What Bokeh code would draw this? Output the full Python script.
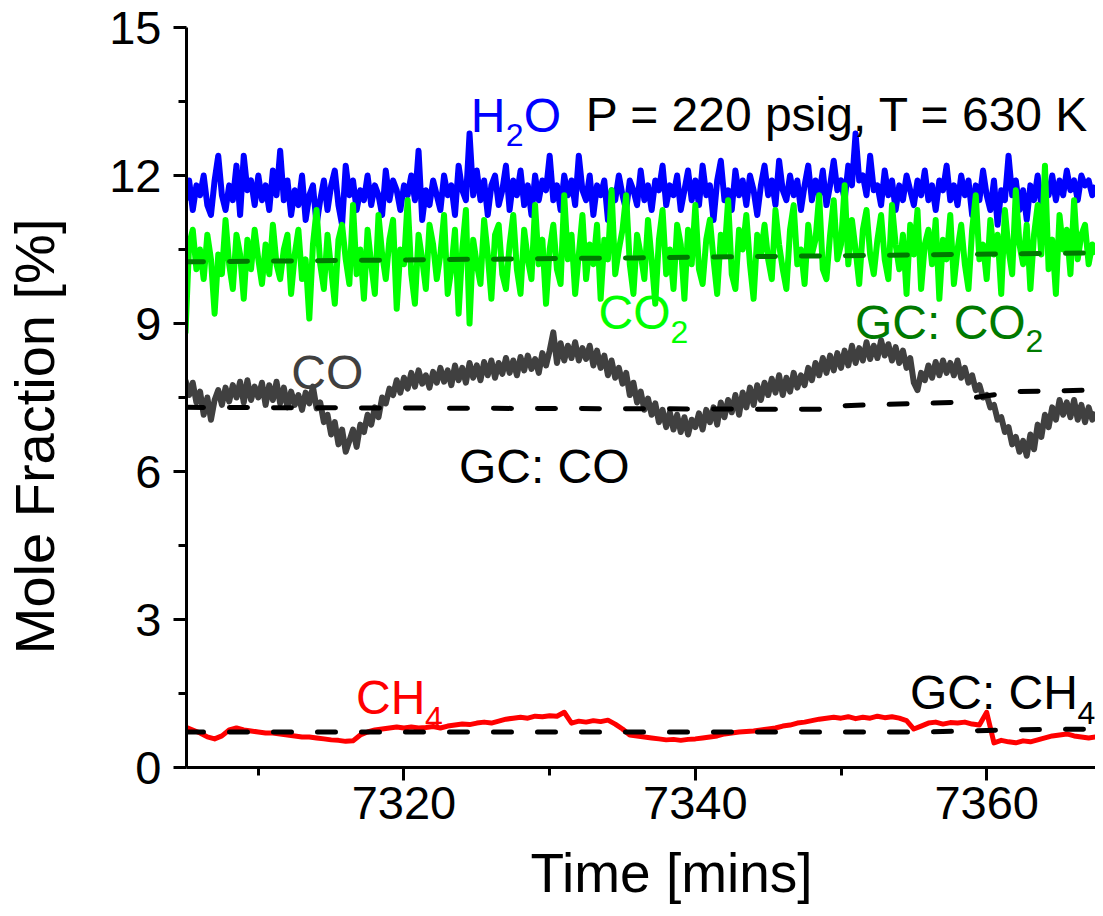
import numpy as np
from bokeh.plotting import figure
from bokeh.models import Range1d, FixedTicker, Label
from bokeh.embed import file_html
from bokeh.resources import INLINE

# ---------------- data ----------------
t_start = 7305.0
t_step = 0.25          # spectroscopic sampling (min)
ch4_step = 0.5

h2o = [
    11.5, 11.9, 11.3, 11.8, 11.6, 12.0, 11.4, 11.2, 11.9, 12.4,
    11.6, 11.3, 11.8, 11.5, 12.2, 11.2, 12.4, 11.7, 11.9, 11.4,
    12.0, 11.5, 11.8, 11.3, 12.1, 11.6, 12.5, 11.5, 11.9, 11.2,
    11.7, 11.4, 12.0, 11.1, 11.6, 11.8, 11.0, 11.5, 11.9, 11.3,
    11.8, 12.1, 11.4, 11.0, 12.2, 11.6, 11.9, 11.3, 11.7, 11.5,
    12.0, 11.4, 11.8, 11.6, 11.2, 12.1, 11.5, 11.9, 11.7, 11.3,
    11.8, 11.6, 12.0, 11.5, 12.5, 11.1, 11.7, 11.4, 11.9, 11.6,
    11.3, 12.0, 11.6, 11.8, 11.2, 12.2, 11.7, 11.5, 12.85, 11.6,
    12.1, 11.5, 11.9, 11.2, 11.8, 12.0, 11.4, 11.7, 12.2, 11.3,
    11.9, 11.6, 12.1, 11.4, 11.8, 11.2, 12.0, 11.5, 11.9, 11.7,
    12.4, 11.5, 11.8, 11.3, 12.0, 11.6, 11.9, 11.4, 12.4, 11.7,
    11.5, 12.0, 11.2, 11.8, 11.6, 11.9, 11.1, 11.7, 11.5, 12.0,
    11.6, 11.3, 11.9, 11.7, 11.4, 12.1, 11.5, 11.8, 11.3, 11.9,
    11.7, 12.2, 11.4, 11.8, 11.6, 12.0, 11.3, 11.7, 12.1, 11.5,
    11.9, 11.4, 12.2, 11.6, 11.8, 11.1, 11.9, 12.3, 11.5, 11.7,
    11.3, 12.1, 11.6, 11.9, 11.4, 12.0, 11.7, 11.2, 11.8, 12.2,
    11.6, 11.9, 11.4, 12.3, 11.7, 11.5, 12.0, 11.6, 11.9, 11.3,
    11.8, 12.2, 11.5, 11.9, 11.6, 12.1, 11.4, 11.8, 12.3, 11.7,
    11.9, 11.5, 12.2, 11.8, 12.85, 11.9, 12.0, 11.6, 12.4, 11.7,
    11.8, 11.4, 12.1, 11.6, 11.9, 11.3, 11.8, 11.5, 12.0, 11.7,
    11.4, 11.9, 11.6, 12.1, 11.5, 11.8, 11.3, 11.9, 11.7, 12.2,
    11.5, 11.8, 11.4, 12.0, 11.6, 11.9, 11.2, 11.8, 11.5, 12.1,
    11.6, 11.3, 11.9, 11.0, 11.7, 11.5, 12.4, 11.6, 11.9, 11.3,
    11.7, 11.1, 11.8, 11.5, 12.0, 11.4, 11.8, 11.6, 12.0, 11.5,
    11.9, 11.6, 12.1, 11.7, 11.9, 11.5, 12.0, 11.8, 11.9, 11.6, 11.8,
]

co2 = [
    8.8, 10.6, 10.9, 10.1, 10.5, 9.9, 10.8, 10.3, 9.2, 10.4,
    10.0, 11.1, 10.2, 9.7, 10.8, 10.4, 9.5, 10.7, 10.1, 10.9,
    10.3, 9.8, 10.6, 10.0, 11.0, 10.2, 9.9, 10.5, 10.8, 9.6,
    10.4, 10.9, 9.9, 10.3, 9.1, 10.6, 11.3, 10.2, 9.7, 10.8,
    10.1, 9.4, 10.7, 11.0, 10.3, 9.8, 11.4, 10.0, 10.5, 9.5,
    10.9, 10.2, 9.6, 11.2, 10.4, 9.9, 10.7, 11.1, 9.3, 10.5,
    10.2, 11.5, 10.0, 9.4, 10.8, 10.3, 9.7, 11.0, 10.6, 9.9,
    10.4, 11.2, 9.6, 10.1, 10.9, 9.2, 10.5, 11.3, 9.0, 10.7,
    10.2, 9.8, 11.1, 10.4, 9.5, 10.8, 11.0, 10.0, 9.7, 10.6,
    11.2, 10.1, 9.6, 10.9, 10.3, 9.9, 11.4, 10.2, 10.7, 9.4,
    10.5, 11.0, 10.1, 9.8, 11.6, 10.3, 10.8, 9.6, 10.4, 11.2,
    9.9, 10.6, 10.2, 11.0, 9.5, 10.7, 10.3, 11.7, 10.0, 10.5,
    10.9, 11.6, 10.2, 9.6, 10.8, 10.4, 9.9, 11.1, 10.3, 9.4,
    10.7, 11.3, 10.0, 10.5, 9.7, 11.0, 10.6, 9.5, 10.9, 10.2,
    11.4, 10.1, 9.8, 10.7, 11.1, 10.3, 9.6, 10.8, 10.4, 11.5,
    10.0, 9.7, 10.9, 10.5, 11.2, 10.2, 9.5, 10.8, 10.4, 11.0,
    10.3, 9.9, 11.3, 10.6, 10.1, 9.7, 10.9, 11.4, 10.2, 10.5,
    9.8, 11.0, 10.4, 10.7, 11.6, 10.1, 9.9, 10.8, 11.5, 10.3,
    10.6, 11.8, 10.2, 11.1, 10.5, 9.8, 10.9, 11.3, 10.4, 10.0,
    10.7, 11.2, 10.3, 9.9, 11.4, 10.6, 10.1, 10.8, 9.6, 11.0,
    10.4, 11.3, 9.7, 10.6, 10.9, 10.2, 11.1, 9.5, 10.7, 10.3,
    11.2, 9.8, 10.5, 11.0, 10.2, 9.7, 10.9, 11.6, 10.3, 10.6,
    9.9, 11.1, 10.4, 10.8, 9.6, 11.3, 10.5, 10.0, 11.7, 10.6,
    10.2, 11.0, 9.7, 10.8, 11.4, 10.4, 12.2, 10.1, 10.7, 9.6,
    11.2, 10.5, 10.9, 10.0, 11.5, 10.3, 10.8, 11.0, 10.2, 10.6, 10.4,
]

co = [
    7.85, 7.55, 7.80, 7.40, 7.62, 7.15, 7.50, 7.05, 7.45, 7.65,
    7.35, 7.70, 7.42, 7.75, 7.50, 7.82, 7.40, 7.85, 7.45, 7.72,
    7.50, 7.80, 7.35, 7.75, 7.45, 7.82, 7.38, 7.70, 7.30, 7.62,
    7.35, 7.55, 7.25, 7.60, 7.38, 7.72, 7.28, 7.40, 7.00, 7.15,
    6.75, 7.00, 6.55, 6.85, 6.40, 6.62, 6.85, 6.50, 6.95, 6.80,
    7.15, 6.95, 7.30, 7.10, 7.50, 7.38, 7.68, 7.55, 7.85, 7.60,
    7.90, 7.68, 8.00, 7.72, 8.05, 7.78, 7.95, 7.70, 8.02, 7.80,
    8.10, 7.82, 8.05, 7.75, 8.15, 7.85, 8.10, 7.80, 8.20, 7.90,
    8.15, 7.85, 8.22, 7.95, 8.25, 7.90, 8.20, 7.98, 8.30, 8.00,
    8.25, 7.95, 8.32, 8.05, 8.35, 8.08, 8.28, 8.00, 8.40, 8.15,
    8.45, 8.82, 8.20, 8.60, 8.25, 8.55, 8.30, 8.62, 8.25, 8.50,
    8.28, 8.55, 8.15, 8.45, 8.10, 8.35, 7.95, 8.25, 7.90, 8.10,
    7.78, 8.00, 7.55, 7.80, 7.40, 7.62, 7.25, 7.48, 7.15, 7.38,
    7.00, 7.25, 6.90, 7.20, 6.85, 7.15, 6.80, 7.10, 6.75, 7.05,
    6.90, 7.18, 6.85, 7.25, 7.00, 7.30, 6.95, 7.40, 7.10, 7.45,
    7.20, 7.55, 7.15, 7.60, 7.30, 7.70, 7.35, 7.75, 7.45, 7.80,
    7.55, 7.88, 7.60, 7.95, 7.55, 7.90, 7.62, 8.00, 7.70, 7.95,
    7.75, 8.10, 7.85, 8.20, 7.95, 8.30, 8.00, 8.35, 8.05, 8.40,
    8.10, 8.45, 8.15, 8.55, 8.20, 8.50, 8.25, 8.62, 8.28, 8.55,
    8.30, 8.66, 8.35, 8.58, 8.25, 8.52, 8.20, 8.45, 8.10, 8.30,
    7.80, 7.65, 8.00, 7.85, 8.15, 7.90, 8.22, 7.95, 8.25, 8.00,
    8.20, 7.95, 8.25, 7.90, 8.10, 7.80, 7.95, 7.65, 7.75, 7.50,
    7.55, 7.30, 7.35, 7.05, 7.10, 6.80, 6.90, 6.55, 6.70, 6.40,
    6.62, 6.32, 6.75, 6.45, 6.95, 6.70, 7.15, 6.90, 7.30, 7.05,
    7.45, 7.15, 7.40, 7.10, 7.45, 7.05, 7.35, 7.00, 7.30, 7.05, 7.20,
]

ch4 = [
    0.82, 0.76, 0.70, 0.62, 0.58, 0.64, 0.76, 0.80, 0.76, 0.74,
    0.72, 0.70, 0.70, 0.68, 0.66, 0.64, 0.62, 0.62, 0.60, 0.58,
    0.56, 0.55, 0.53, 0.54, 0.66, 0.72, 0.76, 0.78, 0.80, 0.82,
    0.80, 0.82, 0.80, 0.81, 0.83, 0.80, 0.84, 0.86, 0.88, 0.87,
    0.90, 0.92, 0.90, 0.94, 0.98, 1.00, 1.02, 1.00, 1.04, 1.03,
    1.05, 1.04, 1.12, 0.90, 0.94, 0.92, 0.95, 0.93, 0.96, 0.88,
    0.78, 0.66, 0.64, 0.62, 0.60, 0.58, 0.56, 0.57, 0.55, 0.57,
    0.58, 0.60, 0.62, 0.64, 0.68, 0.70, 0.72, 0.73, 0.74, 0.76,
    0.78, 0.80, 0.84, 0.86, 0.90, 0.92, 0.95, 0.98, 1.00, 1.02,
    1.00, 1.03, 0.99, 1.02, 1.00, 1.04, 1.01, 1.03, 1.00, 0.95,
    0.78, 0.84, 0.90, 0.92, 0.88, 0.91, 0.90, 0.92, 0.88, 0.86,
    1.12, 0.50, 0.55, 0.52, 0.50, 0.54, 0.52, 0.56, 0.60, 0.64,
    0.66, 0.68, 0.64, 0.62, 0.60, 0.62,
]

gc_co2_t = [7305.0, 7336.0, 7367.5]
gc_co2 = [10.25, 10.33, 10.43]
gc_co_t = [7305.0, 7348.5, 7349.7, 7357.8, 7359.2, 7362.0, 7367.5]
gc_co = [7.30, 7.26, 7.33, 7.40, 7.50, 7.62, 7.65]
gc_ch4_t = [7305.0, 7356.0, 7361.0, 7367.5]
gc_ch4 = [0.72, 0.72, 0.76, 0.78]

x_major = [7320, 7340, 7360]
x_minor = [7310, 7330, 7350, 7370]
y_major = [0, 3, 6, 9, 12, 15]
y_minor = [1.5, 4.5, 7.5, 10.5, 13.5]

t = t_start + t_step * np.arange(len(h2o))
t_ch4 = t_start + ch4_step * np.arange(len(ch4))

FONT = "Liberation Sans"
NBSP = "\u00a0"

# ---------------- figure ----------------
p = figure(width=1095, height=908, output_backend="svg", toolbar_location=None,
           x_range=Range1d(7305.07, 7367.47), y_range=Range1d(0, 15),
           min_border_left=184, min_border_right=0, min_border_top=27,
           min_border_bottom=141)
p.outline_line_color = None
p.grid.visible = False
p.background_fill_color = "white"
p.border_fill_color = "white"

p.line(t, h2o, line_color="#0000FF", line_width=6, line_join="round")
p.line(t, co2, line_color="#00FF00", line_width=6, line_join="round")
p.line(t, co, line_color="#404040", line_width=6, line_join="round")
p.line(t_ch4, ch4, line_color="#FF0000", line_width=5, line_join="round")

p.line(gc_co2_t, gc_co2, line_color="#007A00", line_width=5, line_dash="18 26", line_cap="round")
p.line(gc_co_t, gc_co, line_color="#000000", line_width=5, line_dash="18 26", line_cap="round")
p.line(gc_ch4_t, gc_ch4, line_color="#000000", line_width=5, line_dash="18 26", line_cap="round")

for ax, maj, mnr in ((p.xaxis[0], x_major, x_minor), (p.yaxis[0], y_major, y_minor)):
    ax.ticker = FixedTicker(ticks=maj, minor_ticks=mnr)
    ax.axis_line_width = 3
    ax.major_tick_line_width = 3
    ax.minor_tick_line_width = 3
    ax.major_tick_in = 0
    ax.major_tick_out = 13
    ax.minor_tick_in = 0
    ax.minor_tick_out = 8
    ax.major_label_text_font = FONT
    ax.major_label_text_font_size = "47px"
    ax.major_label_text_color = "black"
    ax.axis_label_text_font = FONT
    ax.axis_label_text_font_style = "normal"
    ax.axis_label_text_color = "black"

# titles: non-breaking spaces shift the centred titles to where the reference has them
p.xaxis.axis_label = NBSP * 4 + "Time [mins]"
p.xaxis.axis_label_text_font_size = "55px"
p.xaxis.major_label_standoff = 6
p.xaxis.axis_label_standoff = 20
p.yaxis.axis_label = "Mole Fraction [%]" + NBSP * 5
p.yaxis.axis_label_text_font_size = "56px"
p.yaxis.major_label_standoff = 12
p.yaxis.axis_label_standoff = 40


def lab(x, y, text, color, size="48px"):
    p.add_layout(Label(x=x, y=y, text=text, text_color=color, text_font=FONT,
                       text_font_size=size, text_align="left",
                       text_baseline="alphabetic"))


lab(7324.59, 13.22, "H", "#0000FF")
lab(7326.99, 12.83, "2", "#0000FF", "32px")
lab(7328.22, 13.22, "O", "#0000FF")
lab(7332.47, 13.24, "P = 220 psig, T = 630 K", "black")
lab(7333.36, 9.22, "CO", "#00FF00")
lab(7338.29, 8.82, "2", "#00FF00", "32px")
lab(7350.96, 9.02, "GC: CO", "#007A00")
lab(7362.67, 8.64, "2", "#007A00", "32px")
lab(7312.26, 8.01, "CO", "#404040")
lab(7323.77, 6.10, "GC: CO", "black")
lab(7316.71, 1.42, "CH", "#FF0000")
lab(7321.44, 1.01, "4", "#FF0000", "32px")
lab(7354.73, 1.52, "GC: CH", "black")
lab(7366.23, 1.11, "4", "black", "32px")

open("out.html", "w").write(file_html(p, INLINE))
